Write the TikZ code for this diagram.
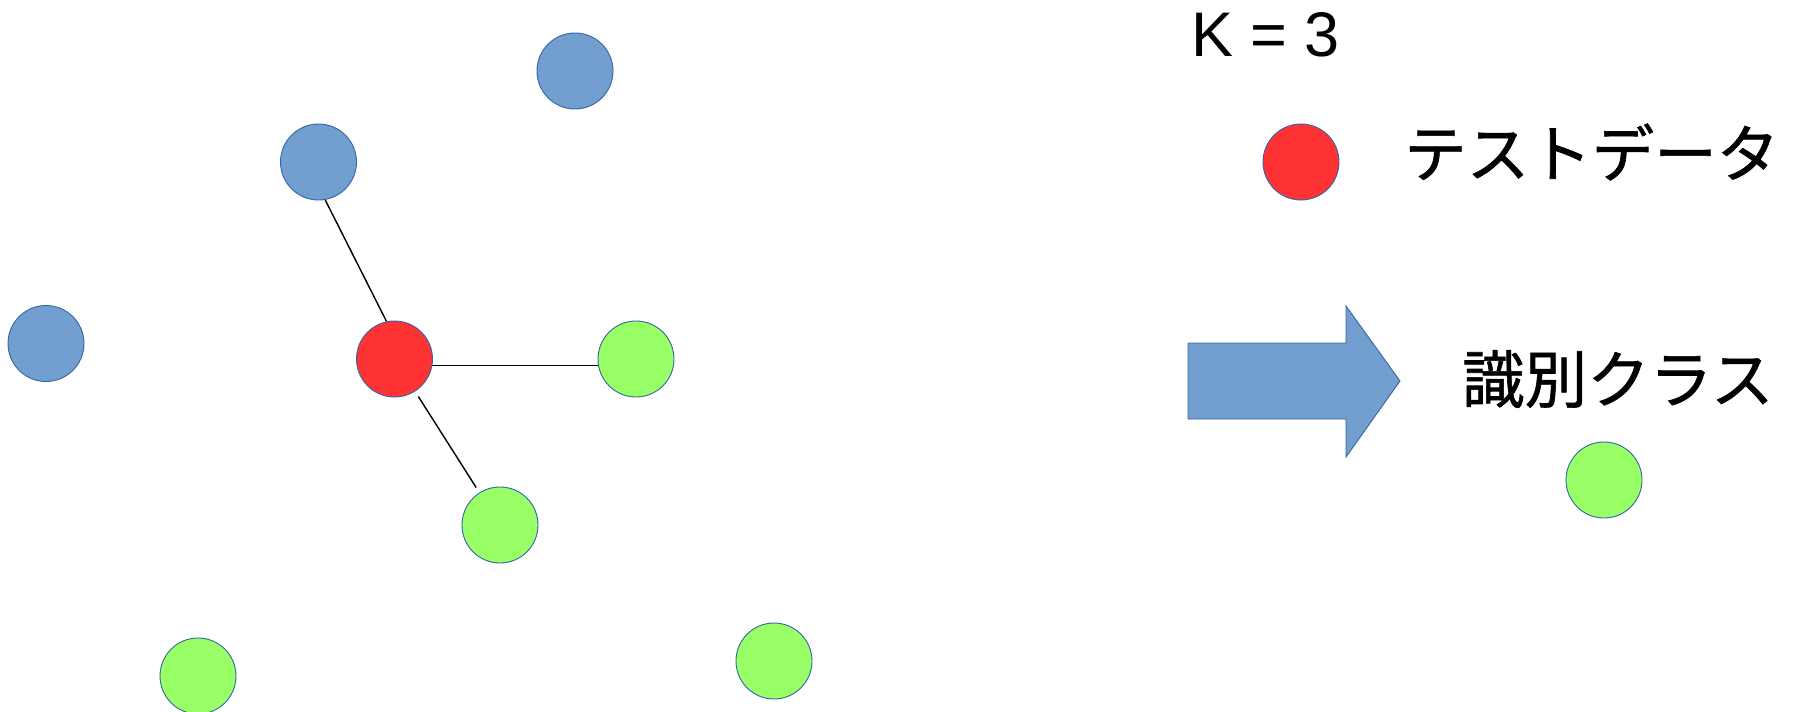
\documentclass[tikz,border=0pt]{standalone}
\usepackage{fontspec}
\setmainfont{Liberation Sans}
\newfontfamily\jpfont[FakeBold=1]{Noto Sans CJK JP}
\definecolor{ptblue}{HTML}{729FCF}
\definecolor{ptred}{HTML}{FF3333}
\definecolor{ptgreen}{HTML}{99FF66}
\definecolor{rim}{HTML}{3465A4}
\tikzset{
  pt/.style={circle, minimum size=76pt, inner sep=0pt, draw=rim, line width=0.9pt},
  bluept/.style={pt, fill=ptblue},
  redpt/.style={pt, fill=ptred},
  greenpt/.style={pt, fill=ptgreen},
  link/.style={draw=black, line width=1.4pt},
  label/.style={inner sep=0pt, font=\jpfont\fontsize{62.5}{62.5}\selectfont}
}
\begin{document}
\begin{tikzpicture}[x=1pt,y=-1pt]
\useasboundingbox (0,0) rectangle (1797,712);

% training points
\node[bluept]  (b1) at (575,71)  {};
\node[bluept]  (b2) at (318.5,162) {};
\node[bluept]  (b3) at (46,343.5) {};
\node[greenpt] (g1) at (636,359) {};
\node[greenpt] (g2) at (500,525) {};
\node[greenpt] (g3) at (198,676) {};
\node[greenpt] (g4) at (774,661) {};

% query point
\node[redpt] (q) at (394.5,359) {};

% links to the three nearest neighbours
\draw[link] (q.102.6) -- (b2.280);
\draw[link] (q.-10.6) -- (g1.190.6);
\draw[link, shorten <=6pt, shorten >=6pt] (q) -- (g2);

% legend
\node[inner sep=0pt, anchor=base west, font=\fontsize{63}{63}\selectfont] (k) at (1191,56) {K = 3};
\node[redpt] (lq) at (1301,162) {};
\node[label, anchor=west] (lqt) at (1404,152) {テストデータ};

% result arrow
\draw[draw=rim, line width=0.9pt, fill=ptblue]
  (1188,343) -- (1346,343) -- (1346,306) -- (1400,381) -- (1346,457) -- (1346,419) -- (1188,419) -- cycle;

\node[label, anchor=west] (res) at (1462,379) {識別クラス};
\node[greenpt] (lg) at (1604,480) {};
\end{tikzpicture}
\end{document}
